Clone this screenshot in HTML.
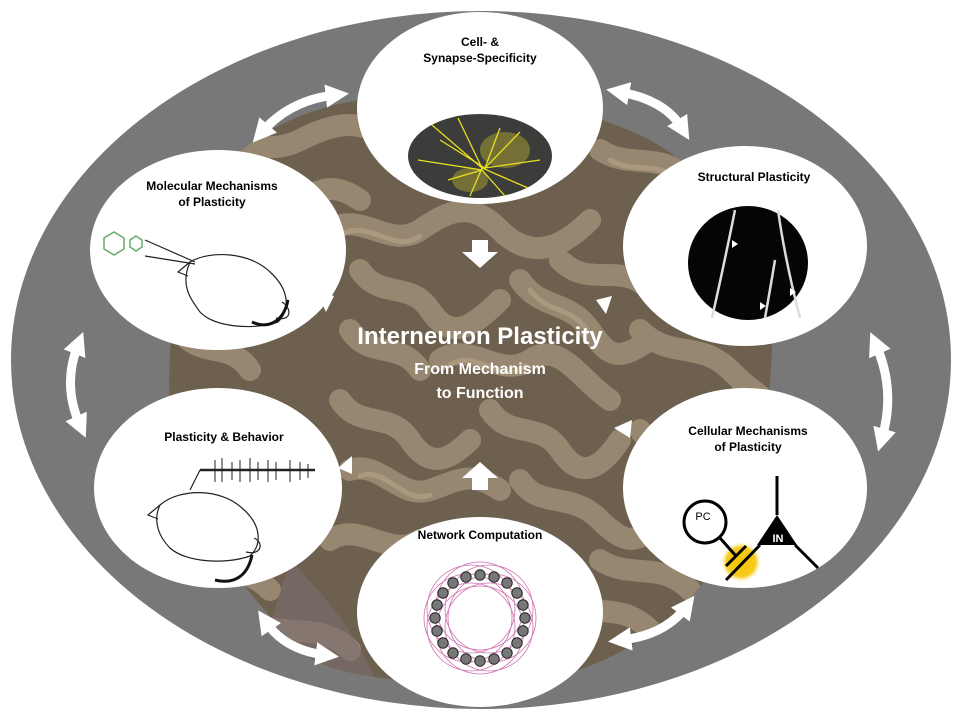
<!DOCTYPE html>
<html><head><meta charset="utf-8"><style>
html,body{margin:0;padding:0;background:#fff;}
svg{display:block;}
text{font-family:"Liberation Sans",Arial,sans-serif;}
</style></head><body>
<svg width="960" height="720" viewBox="0 0 960 720" xmlns="http://www.w3.org/2000/svg">
<defs>
<radialGradient id="glow"><stop offset="0" stop-color="#f5c400"/><stop offset="0.7" stop-color="#f7cc20"/><stop offset="1" stop-color="#fff" stop-opacity="0"/></radialGradient>
<marker id="ah" viewBox="0 0 10 10" refX="4" refY="5" markerWidth="2.6" markerHeight="2.6" orient="auto-start-reverse"><path d="M0,0 L10,5 L0,10 z" fill="#fff"/></marker>
<clipPath id="bc"><path d="M185,250 C200,150 300,100 390,98 C480,92 570,100 650,140 C730,185 772,260 772,340 C772,430 745,520 705,580 C655,650 560,690 470,685 C400,680 320,680 290,640 C240,580 180,520 172,440 C165,370 172,300 185,250 Z"/></clipPath>
</defs>
<ellipse cx="481" cy="360" rx="470" ry="349" fill="#787878"/>
<!-- brain -->
<g clip-path="url(#bc)">
<rect x="160" y="90" width="620" height="600" fill="#6e604e"/>
<g fill="none" stroke="#978770" stroke-width="22" stroke-linecap="round" stroke-linejoin="round">
<path d="M190,150 C230,130 260,160 300,140 S360,120 390,140"/>
<path d="M180,200 C220,190 240,230 280,210 S330,180 360,200"/>
<path d="M330,230 C360,210 390,250 420,230 S470,200 500,230 S560,250 590,220"/>
<path d="M600,150 C630,170 660,150 690,180 S730,210 760,230"/>
<path d="M560,260 C590,290 620,260 650,290"/>
<path d="M360,270 C380,300 410,280 430,310 S470,330 500,300"/>
<path d="M520,280 C540,310 570,300 590,330 S620,360 650,340"/>
<path d="M350,330 C370,360 400,340 420,370"/>
<path d="M440,360 C470,340 500,380 530,360 S580,380 610,400"/>
<path d="M640,330 C670,360 700,340 730,370 S760,390 770,410"/>
<path d="M180,330 C200,360 230,340 250,370"/>
<path d="M340,400 C360,430 390,410 410,440 S450,460 470,440"/>
<path d="M490,410 C510,440 540,420 560,450 S600,470 620,440"/>
<path d="M350,470 C380,460 400,500 430,490 S470,470 500,490"/>
<path d="M520,480 C540,510 570,490 600,520 S640,540 660,520"/>
<path d="M640,430 C660,460 690,440 710,470"/>
<path d="M180,560 C210,580 240,560 270,590"/>
<path d="M330,540 C360,520 390,560 420,540"/>
<path d="M600,560 C630,580 660,560 690,590"/>
<path d="M250,620 C280,640 320,620 350,650"/>
<path d="M560,600 C590,620 620,600 650,630"/>
<path d="M430,640 C460,620 500,650 540,630"/>
</g>
<g fill="none" stroke="#b2a185" stroke-width="5" stroke-linecap="round" opacity="0.7">
<path d="M340,235 C370,218 395,255 420,236"/><path d="M450,365 C475,348 500,385 525,366"/><path d="M530,290 C548,315 572,305 588,332"/><path d="M360,476 C385,466 405,505 430,495"/><path d="M610,160 C635,175 660,158 685,185"/>
</g>
<path d="M290,560 C330,600 360,640 380,690 L250,690 Z" fill="#7a6c70" opacity="0.6"/>
</g>
<!-- arrows -->
<g fill="none" stroke="#fff" stroke-width="9" marker-start="url(#ah)" marker-end="url(#ah)">
<path d="M262,132 Q290,100 335,95"/>
<path d="M620,92 Q665,100 682,128"/>
<path d="M78,345 Q62,385 80,425"/>
<path d="M876,345 Q896,390 882,438"/>
<path d="M266,622 Q285,650 325,655"/>
<path d="M622,640 Q665,635 686,607"/>
</g>
<g fill="#fff">
<path d="M472,240 h16 v12 h10 l-18,16 l-18,-16 h10 z"/>
<path d="M472,490 h16 v-12 h10 l-18,-16 l-18,16 h10 z"/>
<path d="M316,290 l18,6 l-8,16 z"/>
<path d="M612,296 l-16,4 l10,14 z"/>
<path d="M338,468 l14,-12 l0,18 z"/>
<path d="M614,428 l18,-8 l-2,18 z"/>
</g>
<!-- circles -->
<g fill="#fff">
<ellipse cx="480" cy="108" rx="123" ry="96"/>
<ellipse cx="218" cy="250" rx="128" ry="100"/>
<ellipse cx="745" cy="246" rx="122" ry="100"/>
<ellipse cx="218" cy="488" rx="124" ry="100"/>
<ellipse cx="745" cy="488" rx="122" ry="100"/>
<ellipse cx="480" cy="612" rx="123" ry="95"/>
</g>
<g font-size="12" font-weight="bold" fill="#000" text-anchor="middle">
<text x="480" y="46">Cell- &amp;</text>
<text x="480" y="62">Synapse-Specificity</text>
<text x="212" y="190">Molecular Mechanisms</text>
<text x="212" y="206">of Plasticity</text>
<text x="754" y="181">Structural Plasticity</text>
<text x="224" y="441">Plasticity &amp; Behavior</text>
<text x="748" y="435">Cellular Mechanisms</text>
<text x="748" y="451">of Plasticity</text>
<text x="480" y="539">Network Computation</text>
</g>
<!-- top image -->
<ellipse cx="480" cy="156" rx="72" ry="42" fill="#3c3c3a"/>
<g fill="#b8b030" opacity="0.45"><ellipse cx="505" cy="150" rx="25" ry="18"/><ellipse cx="470" cy="180" rx="18" ry="12"/></g>
<g stroke="#e8e020" stroke-width="1.3" fill="none">
<path d="M432,125 L482,168 L528,188"/><path d="M440,140 L485,168 L520,132"/><path d="M458,118 L482,168 L470,196"/>
<path d="M500,128 L485,168 L540,160"/><path d="M418,160 L482,170 L505,196"/><path d="M448,180 L482,170"/>
</g>
<!-- structural -->
<ellipse cx="748" cy="263" rx="60" ry="57" fill="#050505"/>
<g stroke="#ddd" stroke-width="2.5" fill="none">
<path d="M735,210 Q725,260 712,318"/><path d="M778,210 Q785,260 800,318"/><path d="M775,260 Q770,290 765,318"/>
</g>
<g fill="#fff"><path d="M732,240 l6,4 l-6,4z"/><path d="M760,302 l6,4 l-6,4z"/><path d="M790,288 l6,4 l-6,4z"/></g>
<!-- cellular -->
<circle cx="741" cy="562" r="21" fill="url(#glow)"/>
<g stroke="#000" stroke-width="3" fill="none">
<circle cx="705" cy="522" r="21" fill="#fff"/>
<path d="M720,538 L736,556"/><path d="M726,566 L746,546"/><path d="M726,580 L760,545"/>
<path d="M777,476 L777,515"/><path d="M795,545 L818,568"/>
</g>
<path d="M777,515 L797,545 L757,545 Z" fill="#000"/>
<text x="778" y="542" font-size="11" font-weight="bold" fill="#fff" text-anchor="middle">IN</text>
<text x="703" y="520" font-size="11" fill="#000" text-anchor="middle">PC</text>
<!-- network -->
<g fill="none" stroke="#d070b0" stroke-width="0.8">
<circle cx="468" cy="618" r="44"/><circle cx="492" cy="618" r="44"/><circle cx="480" cy="606" r="44"/><circle cx="480" cy="630" r="44"/>
<circle cx="471" cy="609" r="44"/><circle cx="489" cy="627" r="44"/><circle cx="489" cy="609" r="44"/><circle cx="471" cy="627" r="44"/>
</g>
<g fill="#777" stroke="#222" stroke-width="1">
<circle cx="480" cy="575" r="5.2"/><circle cx="494" cy="577" r="5.2"/><circle cx="507" cy="583" r="5.2"/><circle cx="517" cy="593" r="5.2"/><circle cx="523" cy="605" r="5.2"/><circle cx="525" cy="618" r="5.2"/><circle cx="523" cy="631" r="5.2"/><circle cx="517" cy="643" r="5.2"/><circle cx="507" cy="653" r="5.2"/><circle cx="494" cy="659" r="5.2"/><circle cx="480" cy="661" r="5.2"/><circle cx="466" cy="659" r="5.2"/><circle cx="453" cy="653" r="5.2"/><circle cx="443" cy="643" r="5.2"/><circle cx="437" cy="631" r="5.2"/><circle cx="435" cy="618" r="5.2"/><circle cx="437" cy="605" r="5.2"/><circle cx="443" cy="593" r="5.2"/><circle cx="453" cy="583" r="5.2"/><circle cx="466" cy="577" r="5.2"/>
</g>
<!-- mice -->
<g fill="none" stroke="#222" stroke-width="1.2">
<path d="M190,262 C210,250 250,252 270,272 C290,290 290,310 278,322 C255,330 215,328 200,312 C190,298 180,285 190,262 Z"/>
<path d="M190,262 l-12,10 l10,4"/><path d="M276,318 C292,322 292,308 282,302"/>
<path d="M145,240 L195,262"/><path d="M145,256 L195,264"/>
<path d="M160,505 C180,488 220,488 242,508 C262,525 262,545 250,556 C225,565 185,562 170,548 C160,538 152,522 160,505 Z"/>
<path d="M160,505 l-12,10 l10,4"/><path d="M246,552 C262,556 264,542 254,538"/>
<path d="M190,490 L200,470"/>
</g>
<path d="M252,322 C270,330 284,320 288,300" fill="none" stroke="#111" stroke-width="3"/>
<path d="M215,580 C235,585 248,575 252,555" fill="none" stroke="#111" stroke-width="3"/>
<g stroke="#6a6" fill="none" stroke-width="1.5">
<path d="M104,238 l10,-6 l10,6 v11 l-10,6 l-10,-6 z"/><path d="M130,240 l6,-4 l6,4 v7 l-6,4 l-6,-4 z"/>
</g>
<g stroke="#222" stroke-width="1">
<path d="M200,470 H315" stroke-width="2.5"/>
<path d="M215,460 v22 M222,458 v24 M232,462 v18 M240,460 v22 M250,458 v24 M258,462 v18 M268,460 v22 M276,462 v18 M290,460 v22 M300,462 v18 M308,464 v14"/>
</g>
<!-- center text -->
<g fill="#fff" font-weight="bold" text-anchor="middle">
<text x="480" y="344" font-size="24">Interneuron Plasticity</text>
<text x="480" y="374" font-size="16">From Mechanism</text>
<text x="480" y="398" font-size="16">to Function</text>
</g>
</svg>
</body></html>
